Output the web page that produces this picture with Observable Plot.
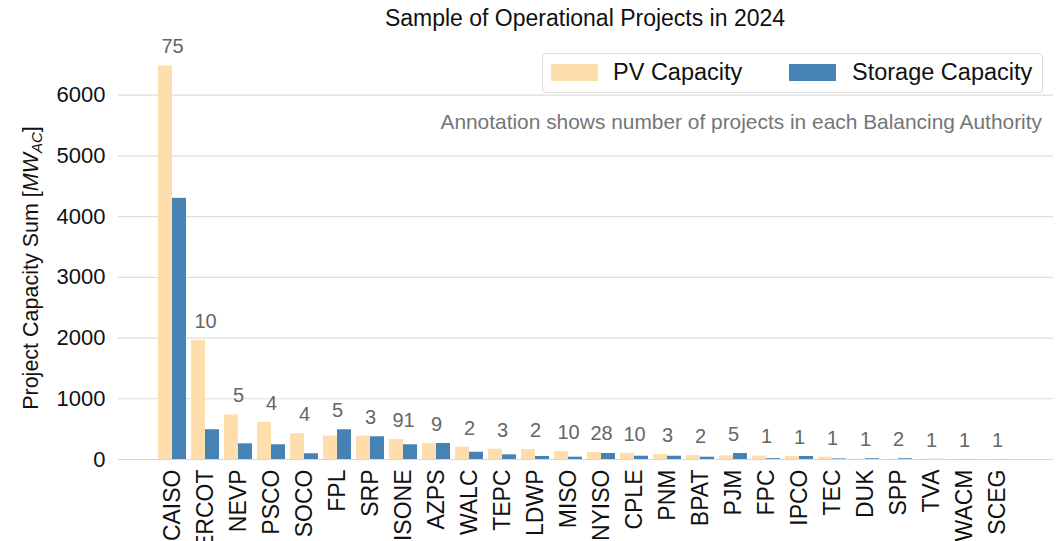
<!DOCTYPE html>
<html>
<head>
<meta charset="utf-8">
<script src="https://cdn.jsdelivr.net/npm/d3@7"></script>
<script src="https://cdn.jsdelivr.net/npm/@observablehq/plot@0.6"></script>
<style>
  html, body { margin: 0; padding: 0; background: #fff; }
  body { width: 1063px; height: 541px; position: relative; overflow: hidden; font-family: "Liberation Sans", Arial, sans-serif; }
  #chart { position: absolute; left: 0; top: 0; }
  .title { position: absolute; left: 335px; width: 500px; top: 5px; text-align: center; font-size: 23px; color: #111; white-space: nowrap; }
  .ylabel { position: absolute; left: 32px; top: 268px; transform: translate(-50%, -50%) rotate(-90deg); font-size: 21.5px; color: #111; white-space: nowrap; }
  .ylabel sub { font-size: 15px; vertical-align: -4px; }
  .legend { position: absolute; left: 542px; top: 53px; width: 499px; height: 38px; border: 1px solid #dcdcdc; border-radius: 4px; background: #fff; font-size: 23.5px; color: #111; }
  .sw { position: absolute; top: 10px; width: 47px; height: 17px; }
  .lt { position: absolute; top: 5px; white-space: nowrap; }
  .note { position: absolute; right: 21px; top: 110px; font-size: 20.9px; color: #757575; white-space: nowrap; }
</style>
</head>
<body>
<div id="chart"></div>
<div class="title">Sample of Operational Projects in 2024</div>
<div class="ylabel">Project Capacity Sum [<i>MW</i><sub><i>AC</i></sub>]</div>
<div class="legend">
  <div class="sw" style="left:8px;background:#FFDEAD"></div><div class="lt" style="left:70px">PV Capacity</div>
  <div class="sw" style="left:246px;background:#4682B4"></div><div class="lt" style="left:309px">Storage Capacity</div>
</div>
<div class="note">Annotation shows number of projects in each Balancing Authority</div>
<script>
const categories = ["CAISO","ERCOT","NEVP","PSCO","SOCO","FPL","SRP","ISONE","AZPS","WALC","TEPC","LDWP","MISO","NYISO","CPLE","PNM","BPAT","PJM","FPC","IPCO","TEC","DUK","SPP","TVA","WACM","SCEG"];
const pvCapacity = [6480,1960,735,610,425,385,385,330,258,203,170,165,132,115,104,82,66,60,58,50,38,6,4,5,3,2];
const storageCapacity = [4300,490,258,242,94,490,374,242,264,120,77,50,38,99,54,54,38,99,14,50,10,12,12,2,1,1];
const projectCounts = [75,10,5,4,4,5,3,91,9,2,3,2,10,28,10,3,2,5,1,1,1,1,2,1,1,1];
const yTicks = [0,1000,2000,3000,4000,5000,6000];

const rows = categories.map((c, i) => ({
  ba: c, pv: pvCapacity[i], storage: storageCapacity[i], count: projectCounts[i],
  top: Math.max(pvCapacity[i], storageCapacity[i])
}));

const chart = Plot.plot({
  width: 1063,
  height: 541,
  marginLeft: 118,
  marginRight: 10,
  marginTop: 46,
  marginBottom: 82,
  style: { fontFamily: "'Liberation Sans', Arial, sans-serif", background: "transparent", color: "#111" },
  x: { domain: categories, padding: 0.15, insetLeft: 24, insetRight: 25 },
  y: { domain: [0, 6800] },
  marks: [
    Plot.gridY(yTicks, { stroke: "#dedede", strokeOpacity: 1, strokeWidth: 1.2 }),
    Plot.barY(rows, { x: "ba", y: "pv", fill: "#FFDEAD", insetRight: 14 }),
    Plot.barY(rows, { x: "ba", y: "storage", fill: "#4682B4", insetLeft: 14 }),
    Plot.ruleY([0], { stroke: "#d6d6d6", strokeWidth: 1.2 }),
    Plot.text(rows, { x: "ba", y: "top", text: d => String(d.count), dy: -19, fill: "#666", fontSize: 20 }),
    Plot.axisY(yTicks, { tickSize: 0, tickPadding: 13, fontSize: 22, label: null, fill: "#111", tickFormat: d => String(d) }),
    Plot.axisX({ tickSize: 0, tickPadding: 10, tickRotate: -90, fontSize: 23, label: null, fill: "#111" })
  ]
});
document.getElementById("chart").appendChild(chart);
</script>
</body>
</html>
